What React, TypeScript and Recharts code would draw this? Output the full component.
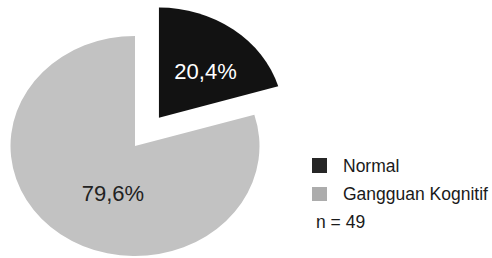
import React from 'react';
import { PieChart, Pie, Cell, Legend } from 'recharts';

const categories = ['Normal', 'Gangguan Kognitif'];
const values = [20.4, 79.6];
const valueLabels = ['20,4%', '79,6%'];
const sampleNote = 'n = 49';

const pieColors = ['#121212', '#c2c2c2'];
const legendColors = ['#262626', '#acacac'];
const labelColors = ['#ffffff', '#222222'];
const labelRadiusFrac = [0.563, 0.466];
const labelAngleShift = [-5, 14.4];

const W = 492;
const H = 258;
const CX = 135;
const CY = 146;
const R = 124.5;
const SQUASH = 0.884;
const EXPLODE = 40;
const START = 90;
const END = -270;
const RAD = Math.PI / 180;
const FONT = '"Liberation Sans", Arial, sans-serif';

const data = categories.map((name, i) => ({ name, value: values[i] }));
const total = values.reduce((a, b) => a + b, 0);
const midNormal = START - ((values[0] / total) * 360) / 2;
const exCx = CX + EXPLODE * Math.cos(midNormal * RAD);
const exCy = CY - EXPLODE * Math.sin(midNormal * RAD);

const makeLabel = (idx: number) => (props: any) => {
  if (props.index !== idx) return null;
  const { cx, cy, midAngle, outerRadius } = props;
  const a = (midAngle + labelAngleShift[idx]) * RAD;
  const r = outerRadius * labelRadiusFrac[idx];
  const x = cx + r * Math.cos(a);
  const yRaw = cy - r * Math.sin(a);
  const y = CY + (yRaw - CY) * SQUASH;
  return (
    <text
      key={`lbl-${idx}`}
      x={x}
      y={y}
      textAnchor="middle"
      dominantBaseline="central"
      fill={labelColors[idx]}
      fontSize={22}
      fontFamily={FONT}
    >
      {valueLabels[idx]}
    </text>
  );
};

const LegendBox = () => (
  <svg width={180} height={100} style={{ display: 'block', overflow: 'visible' }}>
    <rect x={2} y={8} width={15} height={15} fill={legendColors[0]} />
    <text x={33} y={22} fontSize={17.5} fontFamily={FONT} fill="#1a1a1a">
      {categories[0]}
    </text>
    <rect x={2} y={37} width={15} height={14} fill={legendColors[1]} />
    <text x={33} y={50} fontSize={17.5} fontFamily={FONT} fill="#1a1a1a">
      {categories[1]}
    </text>
    <text x={6} y={78} fontSize={17.5} fontFamily={FONT} fill="#1a1a1a">
      {sampleNote}
    </text>
  </svg>
);

export default function App() {
  return (
    <div style={{ position: 'absolute', left: 0, top: 0, width: W, height: H, background: '#fff' }}>
      <style>{`.recharts-pie-sector { transform: scaleY(${SQUASH}); transform-origin: 0px ${CY}px; }`}</style>
      <PieChart width={W} height={H} margin={{ top: 0, right: 0, bottom: 0, left: 0 }}>
        <Pie
          data={data}
          dataKey="value"
          nameKey="name"
          cx={CX}
          cy={CY}
          outerRadius={R}
          startAngle={START}
          endAngle={END}
          stroke="none"
          isAnimationActive={false}
          labelLine={false}
          label={makeLabel(1)}
          legendType="none"
        >
          {data.map((d, i) => (
            <Cell key={d.name} fill={i === 1 ? pieColors[1] : 'transparent'} />
          ))}
        </Pie>
        <Pie
          data={data}
          dataKey="value"
          nameKey="name"
          cx={exCx}
          cy={exCy}
          outerRadius={R}
          startAngle={START}
          endAngle={END}
          stroke="none"
          isAnimationActive={false}
          labelLine={false}
          label={makeLabel(0)}
          legendType="none"
        >
          {data.map((d, i) => (
            <Cell key={d.name} fill={i === 0 ? pieColors[0] : 'transparent'} />
          ))}
        </Pie>
        <Legend
          content={() => <LegendBox />}
          wrapperStyle={{ position: 'absolute', left: 310, top: 150, width: 180, height: 100 }}
        />
      </PieChart>
    </div>
  );
}
